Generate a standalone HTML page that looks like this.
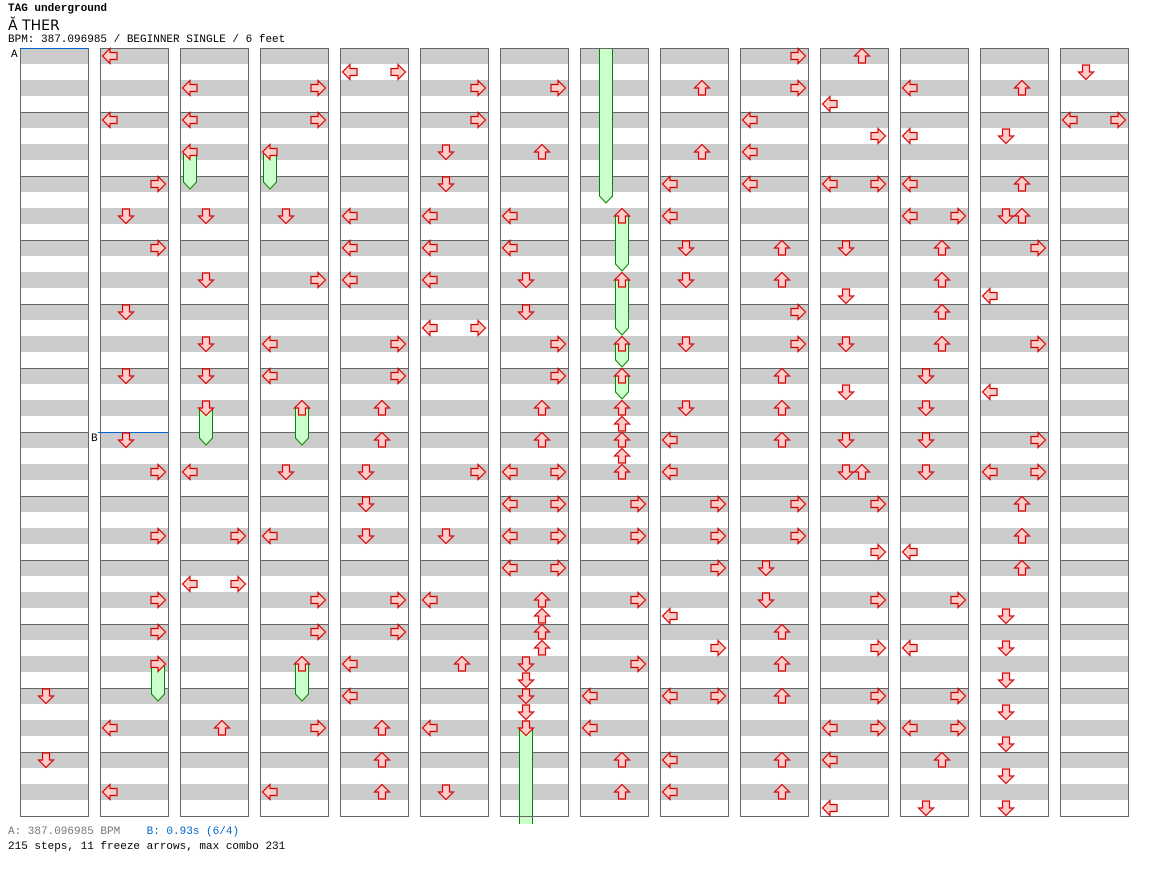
<!DOCTYPE html>
<html><head><meta charset="utf-8"><style>
body{margin:0;background:#fff;width:1152px;height:876px;overflow:hidden;font-family:"Liberation Mono","DejaVu Sans Mono",monospace;}
.t{position:absolute;left:8px;white-space:pre;color:#000}
</style></head><body>
<div class="t" style="top:3px;font-size:11px;font-weight:bold">TAG underground</div>
<div class="t" style="top:18px;font-size:14px;font-family:'DejaVu Sans',sans-serif">Ă THER</div>
<div class="t" style="top:34px;font-size:11px">BPM: 387.096985 / BEGINNER SINGLE / 6 feet</div>
<div class="t" style="top:826px;font-size:11px;color:#777">A: 387.096985 BPM    <span style="color:#0066cc">B: 0.93s (6/4)</span></div>
<div class="t" style="top:841px;font-size:11px">215 steps, 11 freeze arrows, max combo 231</div>
<svg id="s" width="1152" height="876" style="position:absolute;left:0;top:0"></svg>
<script>
var cols=[
"D696 D760",
"L56 L120 R184 D216 R248 D312 D376 D440 R472 R536 R600 R632 R664 L728 L792",
"L88 L120 L152 D216 D280 D344 D376 D408 L472 R536 L584 R584 U728",
"R88 R120 L152 D216 R280 L344 L376 U408 D472 L536 R600 R632 U664 R728 L792",
"L72 R72 L216 L248 L280 R344 R376 U408 U440 D472 D504 D536 R600 R632 L664 L696 U728 U760 U792",
"R88 R120 D152 D184 L216 L248 L280 L328 R328 R472 D536 L600 U664 L728 D792",
"R88 U152 L216 L248 D280 D312 R344 R376 U408 U440 L472 R472 L504 R504 L536 R536 L568 R568 U600 U616 U632 U648 D664 D680 D696 D712 D728",
"U216 U280 U344 U376 U408 U424 U440 U456 U472 R504 R536 R600 R664 L696 L728 U760 U792",
"U88 U152 L184 L216 D248 D280 D344 D408 L440 L472 R504 R536 R568 L616 R648 L696 R696 L760 L792",
"R56 R88 L120 L152 L184 U248 U280 R312 R344 U376 U408 U440 R504 R536 D568 D600 U632 U664 U696 U760 U792",
"U56 L104 R136 L184 R184 D248 D296 D344 D392 D440 D472 U472 R504 R552 R600 R648 R696 L728 R728 L760 L808",
"L88 L136 L184 L216 R216 U248 U280 U312 U344 D376 D408 D440 D472 L552 R600 L648 R696 L728 R728 U760 D808",
"U88 D136 U184 D216 U216 R248 L296 R344 L392 R440 L472 R472 U504 U536 U568 D616 D648 D680 D712 D744 D776 D808",
"D72 L120 R120"];
var fr=[[1,3,664,694],[2,0,152,182],[2,1,408,438],[3,0,152,182],[3,2,408,438],[3,2,664,694],[6,1,728,840],[7,1,40,196],[7,2,216,264],[7,2,280,328],[7,2,344,360],[7,2,376,392]];
var h='',L={L:0,D:1,U:2,R:3};
for(var c=0;c<14;c++){var x=20+80*c;
 for(var k=0;k<24;k++){h+='<rect x="'+x+'" y="'+(48+32*k)+'" width="68" height="16" fill="#ccc"/>';}
 for(var m=1;m<12;m++)h+='<line x1="'+x+'" x2="'+(x+68)+'" y1="'+(48+64*m+.5)+'" y2="'+(48+64*m+.5)+'" stroke="#666"/>';}
h+='<defs><clipPath id="cp"><rect x="0" y="48" width="1152" height="776"/></clipPath></defs><g clip-path="url(#cp)">';
fr.forEach(function(f){var x=20+80*f[0]+2+16*f[1],y0=f[2],e=f[3];
 h+='<polygon points="'+(x+1.5)+','+y0+' '+(x+14.5)+','+y0+' '+(x+14.5)+','+e+' '+(x+8)+','+(e+7)+' '+(x+1.5)+','+e+'" fill="#ccffcc" stroke="#008800"/>';});
h+='</g>';
for(var c=0;c<14;c++){var x=20+80*c;h+='<rect x="'+(x+.5)+'" y="48.5" width="68" height="768" fill="none" stroke="#666"/>';}
h+='<line x1="20" x2="88" y1="48.5" y2="48.5" stroke="#0066cc"/><text x="11" y="57" font-size="11" font-family="Liberation Mono,monospace">A</text>';
h+='<line x1="98" x2="168" y1="432.5" y2="432.5" stroke="#0066cc"/><text x="91" y="441" font-size="11" font-family="Liberation Mono,monospace">B</text>';
function arrow(x,y,d){var p=[[8,0.5],[15.5,8],[11.5,8],[11.5,15],[4.5,15],[4.5,8],[0.5,8]];var q=p.map(function(a){var u=a[0]-8,v=a[1]-8,X,Y;
 if(d==2){X=u;Y=v}else if(d==1){X=u;Y=-v}else if(d==0){X=v;Y=u}else{X=-v;Y=u}
 return (x+8+X)+','+(y+Y)}).join(' ');
 return '<polygon points="'+q+'" fill="#ffcccc" stroke="#dd0000" stroke-width="1.2"/>';}
cols.forEach(function(s,c){if(!s)return;s.split(' ').forEach(function(t){var d=L[t[0]],y=+t.slice(1);h+=arrow(20+80*c+2+16*d,y,d);});});
document.getElementById('s').innerHTML=h;
</script>
</body></html>
